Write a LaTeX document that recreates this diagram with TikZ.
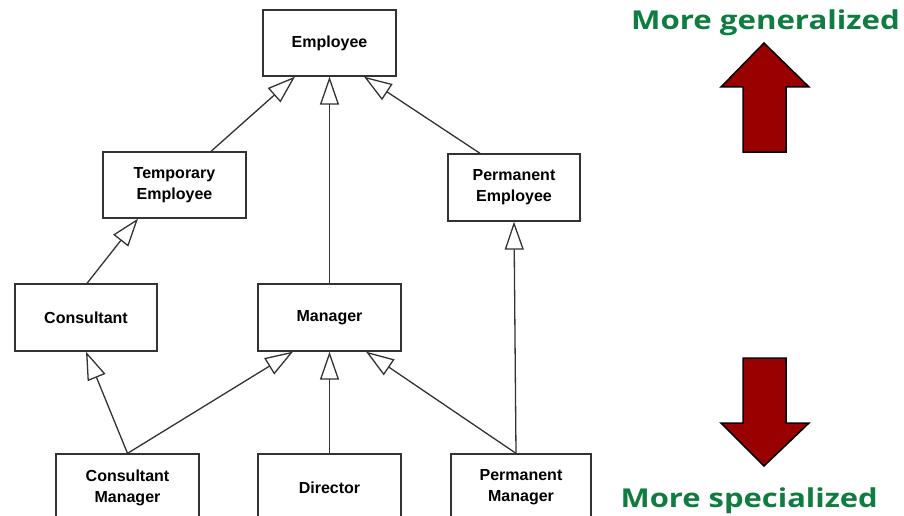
\documentclass[tikz,border=0pt]{standalone}
\usepackage{fontspec}
\setmainfont{Liberation Sans}
\newfontfamily\greenfont{Open Sans}
\usetikzlibrary{arrows.meta}
\definecolor{boxline}{HTML}{333333}
\definecolor{labelgreen}{HTML}{0E7D3F}
\definecolor{darkred}{HTML}{990000}
\tikzset{
  cls/.style={draw=boxline, line width=1.3pt, fill=white, minimum height=67pt, inner sep=0pt, align=center, font=\fontsize{16}{21}\selectfont\bfseries},
  gen/.style={draw=boxline, line width=1.3pt, -{Triangle[open, length=28pt, width=19pt, fill=white, line width=1.3pt]}},
  bigarrow/.style={fill=darkred, draw=black, line width=1.5pt, line join=miter},
  greenlabel/.style={text=labelgreen, font=\greenfont\bfseries\fontsize{26}{30}\selectfont, inner sep=0pt}
}
\begin{document}
\begin{tikzpicture}[x=1pt, y=-1pt]
\path[use as bounding box, clip] (0,0) rectangle (904,516);
\fill[white] (0,0) rectangle (904,516);

\node[cls, minimum width=133pt, minimum height=66pt] (emp) at (329.5,43) {Employee};
\node[cls, minimum width=143pt, minimum height=66pt] (te) at (174.5,185) {Temporary\\Employee};
\node[cls, minimum width=132pt] (pe) at (514,187.5) {Permanent\\Employee};
\node[cls, minimum width=142pt] (cons) at (86,317.5) {Consultant};
\node[cls, minimum width=143pt] (man) at (329.5,317.5) {Manager};
\node[cls, minimum width=143pt] (cm) at (127.5,487.5) {Consultant\\Manager};
\node[cls, minimum width=143pt] (dir) at (329.5,487.5) {Director};
\node[cls, minimum width=140pt] (pm) at (521,487.5) {Permanent\\Manager};

\draw[gen] ([xshift=36.5pt]te.north) -- ([xshift=-34.5pt]emp.south);
\draw[gen] (man.north) -- (emp.south);
\draw[gen] ([xshift=-34pt]pe.north) -- ([xshift=34.5pt]emp.south);
\draw[gen] ([xshift=1pt]cons.north) -- ([xshift=-36.5pt]te.south);
\draw[gen] ([xshift=-5pt]pm.north) -- (pe.south);
\draw[gen] (cm.north) -- (cons.south);
\draw[gen] (cm.north) -- ([xshift=-36.5pt]man.south);
\draw[gen] (dir.north) -- (man.south);
\draw[gen] ([xshift=-5pt]pm.north) -- ([xshift=36.5pt]man.south);

\node[greenlabel, anchor=base east] (gen) at (900,30) {\scalebox{1.2}[1]{More generalized}};
\node[greenlabel, anchor=base east] (spec) at (878,507) {\scalebox{1.19}[1]{More specialized}};

\draw[bigarrow] (764,43) -- (809,87) -- (786,87) -- (786,152) -- (743,152) -- (743,87) -- (721,87) -- cycle;
\draw[bigarrow] (764,466) -- (809,423) -- (786,423) -- (786,358) -- (743,358) -- (743,423) -- (721,423) -- cycle;
\end{tikzpicture}
\end{document}
